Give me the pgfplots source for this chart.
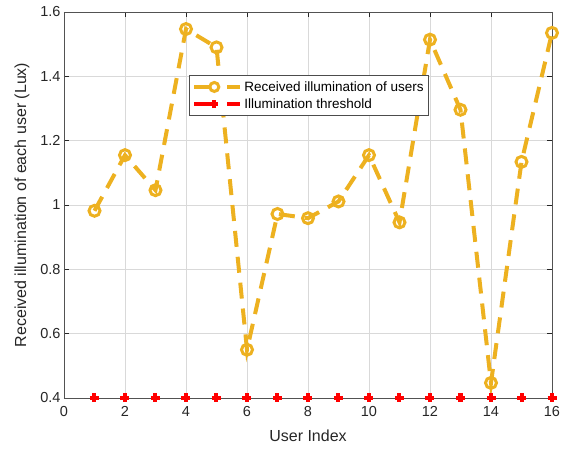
\documentclass[border=0pt]{standalone}
\usepackage{fontspec}
\setmainfont{Liberation Sans}
\usepackage{pgfplots}
\pgfplotsset{compat=1.18}
\definecolor{myyellow}{rgb}{0.929,0.694,0.125}
\definecolor{axgray}{rgb}{0.15,0.15,0.15}
\begin{document}
\begin{tikzpicture}
\begin{axis}[
  at={(0,0)}, anchor=south west,
  scale only axis, width=488pt, height=386pt,
  xmin=0, xmax=16, ymin=0.4, ymax=1.6,
  xtick={0,2,...,16}, ytick={0.4,0.6,0.8,1,1.2,1.4,1.6},
  yticklabels={0.4,0.6,0.8,1,1.2,1.4,1.6},
  /pgf/number format/assume math mode=true,
  tick label style={font=\fontsize{14.5}{17}\selectfont, text=axgray},
  xticklabel style={yshift=-5pt},
  label style={font=\fontsize{16}{18}\selectfont, text=axgray},
  xlabel={User Index}, ylabel={Received illumination of each user (Lux)},
  grid=major, major grid style={draw=black!15, line width=0.6pt},
  axis line style={draw=axgray!80, line width=0.8pt},
  tick style={draw=axgray, line width=0.6pt},
  tick align=inside, major tick length=5pt,
  xlabel style={yshift=-6pt},
  ylabel style={yshift=4pt},
  legend style={at={(0.256,0.837)}, anchor=north west, font=\fontsize{13.5}{16}\selectfont,
    draw=black!70, line width=0.8pt, fill=white, inner xsep=3pt, inner ysep=4pt, row sep=2pt},
  legend cell align=left,
]
\addplot[color=myyellow, line width=4pt, dash pattern=on 16pt off 10pt,
  mark=o, mark size=5.5pt, mark options={solid, line width=3pt},
  legend image code/.code={
    \draw[myyellow, line width=4pt, solid] (0pt,0pt) -- (20pt,0pt);
    \draw[myyellow, line width=4pt, solid] (33pt,0pt) -- (46pt,0pt);
    \draw[myyellow, line width=3pt, fill=white, solid] (20pt,0pt) circle[radius=4.5pt];
  }]
coordinates {
(1,0.982) (2,1.155) (3,1.046) (4,1.547) (5,1.490) (6,0.550) (7,0.972) (8,0.959)
(9,1.011) (10,1.155) (11,0.946) (12,1.514) (13,1.296) (14,0.447) (15,1.134) (16,1.535)
};
\addlegendentry{Received illumination of users}
\addplot[color=red, only marks, mark=+, mark size=4.5pt, mark options={line width=4pt},
  legend image code/.code={
    \draw[red, line width=4pt, solid] (0pt,0pt) -- (20pt,0pt);
    \draw[red, line width=4pt, solid] (33pt,0pt) -- (46pt,0pt);
    \draw[red, line width=4pt, solid] (16pt,0pt) -- (24pt,0pt) (20pt,-4pt) -- (20pt,4pt);
  }]
coordinates {
(1,0.4) (2,0.4) (3,0.4) (4,0.4) (5,0.4) (6,0.4) (7,0.4) (8,0.4)
(9,0.4) (10,0.4) (11,0.4) (12,0.4) (13,0.4) (14,0.4) (15,0.4) (16,0.4)
};
\addlegendentry{Illumination threshold}
\end{axis}
\pgfresetboundingbox
\path (-64pt,-51pt) rectangle (507pt,398pt);
\end{tikzpicture}
\end{document}
